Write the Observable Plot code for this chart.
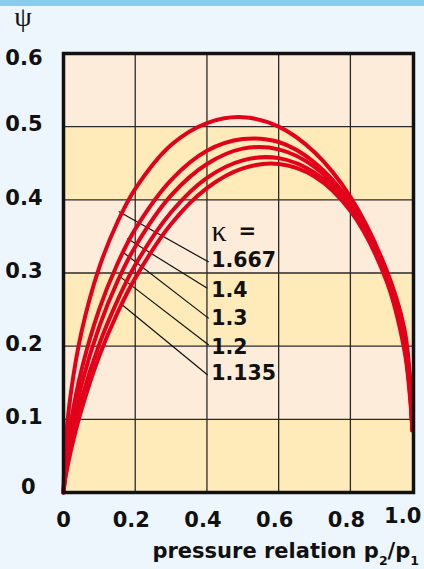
<!DOCTYPE html>
<html>
<head>
<meta charset="utf-8">
<script src="https://cdn.jsdelivr.net/npm/d3@7"></script>
<script src="https://cdn.jsdelivr.net/npm/@observablehq/plot@0.6"></script>
<style>
  html, body { margin: 0; padding: 0; background: #eef6fd; }
  #chart { width: 424px; height: 569px; }
</style>
</head>
<body>
<div id="chart"></div>
<script>
// ---- data ----
const kappaLabels = ["1.667", "1.4", "1.3", "1.2", "1.135"];
const pressureRatio = [0, 0.005, 0.02, 0.05, 0.1, 0.15, 0.2, 0.3, 0.4, 0.5, 0.6, 0.7, 0.8, 0.9, 0.95, 0.965, 0.973];
const psi1667 = [0, 0.062, 0.134, 0.219, 0.308, 0.369, 0.415, 0.475, 0.505, 0.513, 0.500, 0.465, 0.404, 0.305, 0.225, 0.165, 0.085];
const psi14   = [0, 0.038, 0.094, 0.167, 0.251, 0.312, 0.360, 0.427, 0.467, 0.483, 0.479, 0.451, 0.396, 0.299, 0.215, 0.155, 0.085];
const psi13   = [0, 0.030, 0.079, 0.147, 0.227, 0.288, 0.336, 0.406, 0.449, 0.470, 0.469, 0.445, 0.393, 0.296, 0.208, 0.148, 0.085];
const psi12   = [0, 0.023, 0.065, 0.127, 0.203, 0.262, 0.311, 0.383, 0.430, 0.454, 0.457, 0.437, 0.389, 0.293, 0.202, 0.142, 0.085];
const psi1135 = [0, 0.019, 0.056, 0.113, 0.187, 0.245, 0.293, 0.367, 0.416, 0.443, 0.449, 0.432, 0.385, 0.290, 0.196, 0.137, 0.085];
const psiSeries = [psi1667, psi14, psi13, psi12, psi1135];

// leader lines (data units) and label anchors
const leaderStartX = [0.154, 0.178, 0.167, 0.160, 0.160];
const leaderStartY = [0.384, 0.347, 0.328, 0.294, 0.258];
const leaderEndX   = [0.405, 0.401, 0.405, 0.405, 0.402];
const leaderEndY   = [0.315, 0.279, 0.238, 0.2015, 0.1605];
const labelX = [0.412, 0.412, 0.412, 0.412, 0.412];
const labelY = [0.3176, 0.2766, 0.2384, 0.1988, 0.1633];
const kappaHeadX = [0.413, 0.488];
const kappaHeadY = [0.357, 0.357];
const kappaHeadText = ["κ", "="];

// axes
const xDomain = [0, 0.976];
const yDomain = [0, 0.6];
const xGrid = [0.2, 0.4, 0.6, 0.8];
const yGrid = [0.1, 0.2, 0.3, 0.4, 0.5];
const xTickValues = [0, 0.2, 0.4, 0.6, 0.8, 0.957];
const xTickLabels = ["0", "0.2", "0.4", "0.6", "0.8", "1.0"];
const yTickValues = [0, 0.1, 0.2, 0.3, 0.4, 0.5, 0.6];
const yTickLabels = ["0", "0.1", "0.2", "0.3", "0.4", "0.5", "0.6"];
const bandLo = [0, 0.1, 0.2, 0.3, 0.4, 0.5];
const bandHi = [0.1, 0.2, 0.3, 0.4, 0.5, 0.6];
const bandFill = ["#feebb9", "#fdecd9", "#feebb9", "#fdecd9", "#feebb9", "#fdecd9"];

// ---- build tables ----
const curves = kappaLabels.flatMap((k, i) =>
  pressureRatio.map((x, j) => ({k, x, y: psiSeries[i][j]})));
const bands = bandLo.map((lo, i) => ({lo, hi: bandHi[i], fill: bandFill[i]}));
const leaders = kappaLabels.map((k, i) => ({k, x1: leaderStartX[i], y1: leaderStartY[i], x2: leaderEndX[i], y2: leaderEndY[i]}));
const labels = kappaLabels.map((k, i) => ({k, x: labelX[i], y: labelY[i]}));
const heads = kappaHeadText.map((t, i) => ({t, x: kappaHeadX[i], y: kappaHeadY[i]}));

const F = "DejaVu Sans";
const red = "#e2001a";
const xFmt = d => xTickLabels[xTickValues.indexOf(d)];
const yFmt = d => yTickLabels[yTickValues.indexOf(d)];
const tickText = {tickSize: 0, fontSize: 21, fontWeight: "bold", fontFamily: F};

const plot = Plot.plot({
  width: 424,
  height: 569,
  marginLeft: 63,
  marginRight: 11,
  marginTop: 53,
  marginBottom: 77,
  style: {background: "#eef6fd", fontFamily: F, color: "#111"},
  x: {domain: xDomain, axis: null},
  y: {domain: yDomain, axis: null},
  color: {type: "identity"},
  marks: [
    Plot.rect(bands, {y1: "lo", y2: "hi", fill: "fill"}),
    Plot.gridX(xGrid, {stroke: "#2a2a2a", strokeOpacity: 1, strokeWidth: 1.3}),
    Plot.gridY(yGrid, {stroke: "#2a2a2a", strokeOpacity: 1, strokeWidth: 1.3}),
    Plot.link(leaders, {x1: "x1", y1: "y1", x2: "x2", y2: "y2", stroke: "#111", strokeWidth: 1.2}),
    Plot.line(curves, {x: "x", y: "y", z: "k", stroke: red, strokeWidth: 4, curve: "catmull-rom"}),
    Plot.frame({stroke: "#111", strokeWidth: 3.5}),
    Plot.text(labels, {x: "x", y: "y", text: "k", textAnchor: "start", lineAnchor: "middle", fontSize: 20.5, fontWeight: "bold", fontFamily: F, fill: "#111"}),
    Plot.text(heads.slice(0, 1), {x: "x", y: "y", text: "t", textAnchor: "start", lineAnchor: "middle", fontSize: 30, fontFamily: "Liberation Serif", fill: "#111"}),
    Plot.text(heads.slice(1), {x: "x", y: "y", text: "t", textAnchor: "start", lineAnchor: "middle", fontSize: 21, fontWeight: "bold", fontFamily: F, fill: "#111"}),
    Plot.axisX(xTickValues.slice(0, 1), {...tickText, tickPadding: 20, tickFormat: xFmt}),
    Plot.axisX(xTickValues.slice(1, 5), {...tickText, tickPadding: 20, dx: -4, tickFormat: xFmt}),
    Plot.axisX(xTickValues.slice(5), {...tickText, tickPadding: 16, dx: -4, tickFormat: xFmt}),
    Plot.axisY(yTickValues.slice(1, 6), {...tickText, tickPadding: 21, dy: -2, tickFormat: yFmt}),
    Plot.axisY(yTickValues.slice(0, 1), {...tickText, tickPadding: 28, dy: -5, tickFormat: yFmt}),
    Plot.axisY(yTickValues.slice(6), {...tickText, tickPadding: 21, dy: 5, tickFormat: yFmt})
  ]
});

document.getElementById("chart").appendChild(plot);

const svg = d3.select(plot);
// top blue strip
svg.insert("rect", ":first-child").attr("x", 0).attr("y", 0).attr("width", 424).attr("height", 6).attr("fill", "#88ccf0");
// psi axis title
svg.append("text").attr("x", 23).attr("y", 26).attr("text-anchor", "middle")
  .attr("font-family", "Liberation Serif").attr("font-size", 28).attr("fill", "#111").text("ψ");
// x axis title with subscripts
const t = svg.append("text").attr("x", 419).attr("y", 558).attr("text-anchor", "end")
  .attr("font-family", F).attr("font-weight", "bold").attr("font-size", 21).attr("fill", "#111");
t.append("tspan").text("pressure relation p");
t.append("tspan").attr("font-size", 12.5).attr("dy", 7).text("2");
t.append("tspan").attr("dy", -7).text("/p");
t.append("tspan").attr("font-size", 12.5).attr("dy", 7).text("1");
</script>
</body>
</html>
